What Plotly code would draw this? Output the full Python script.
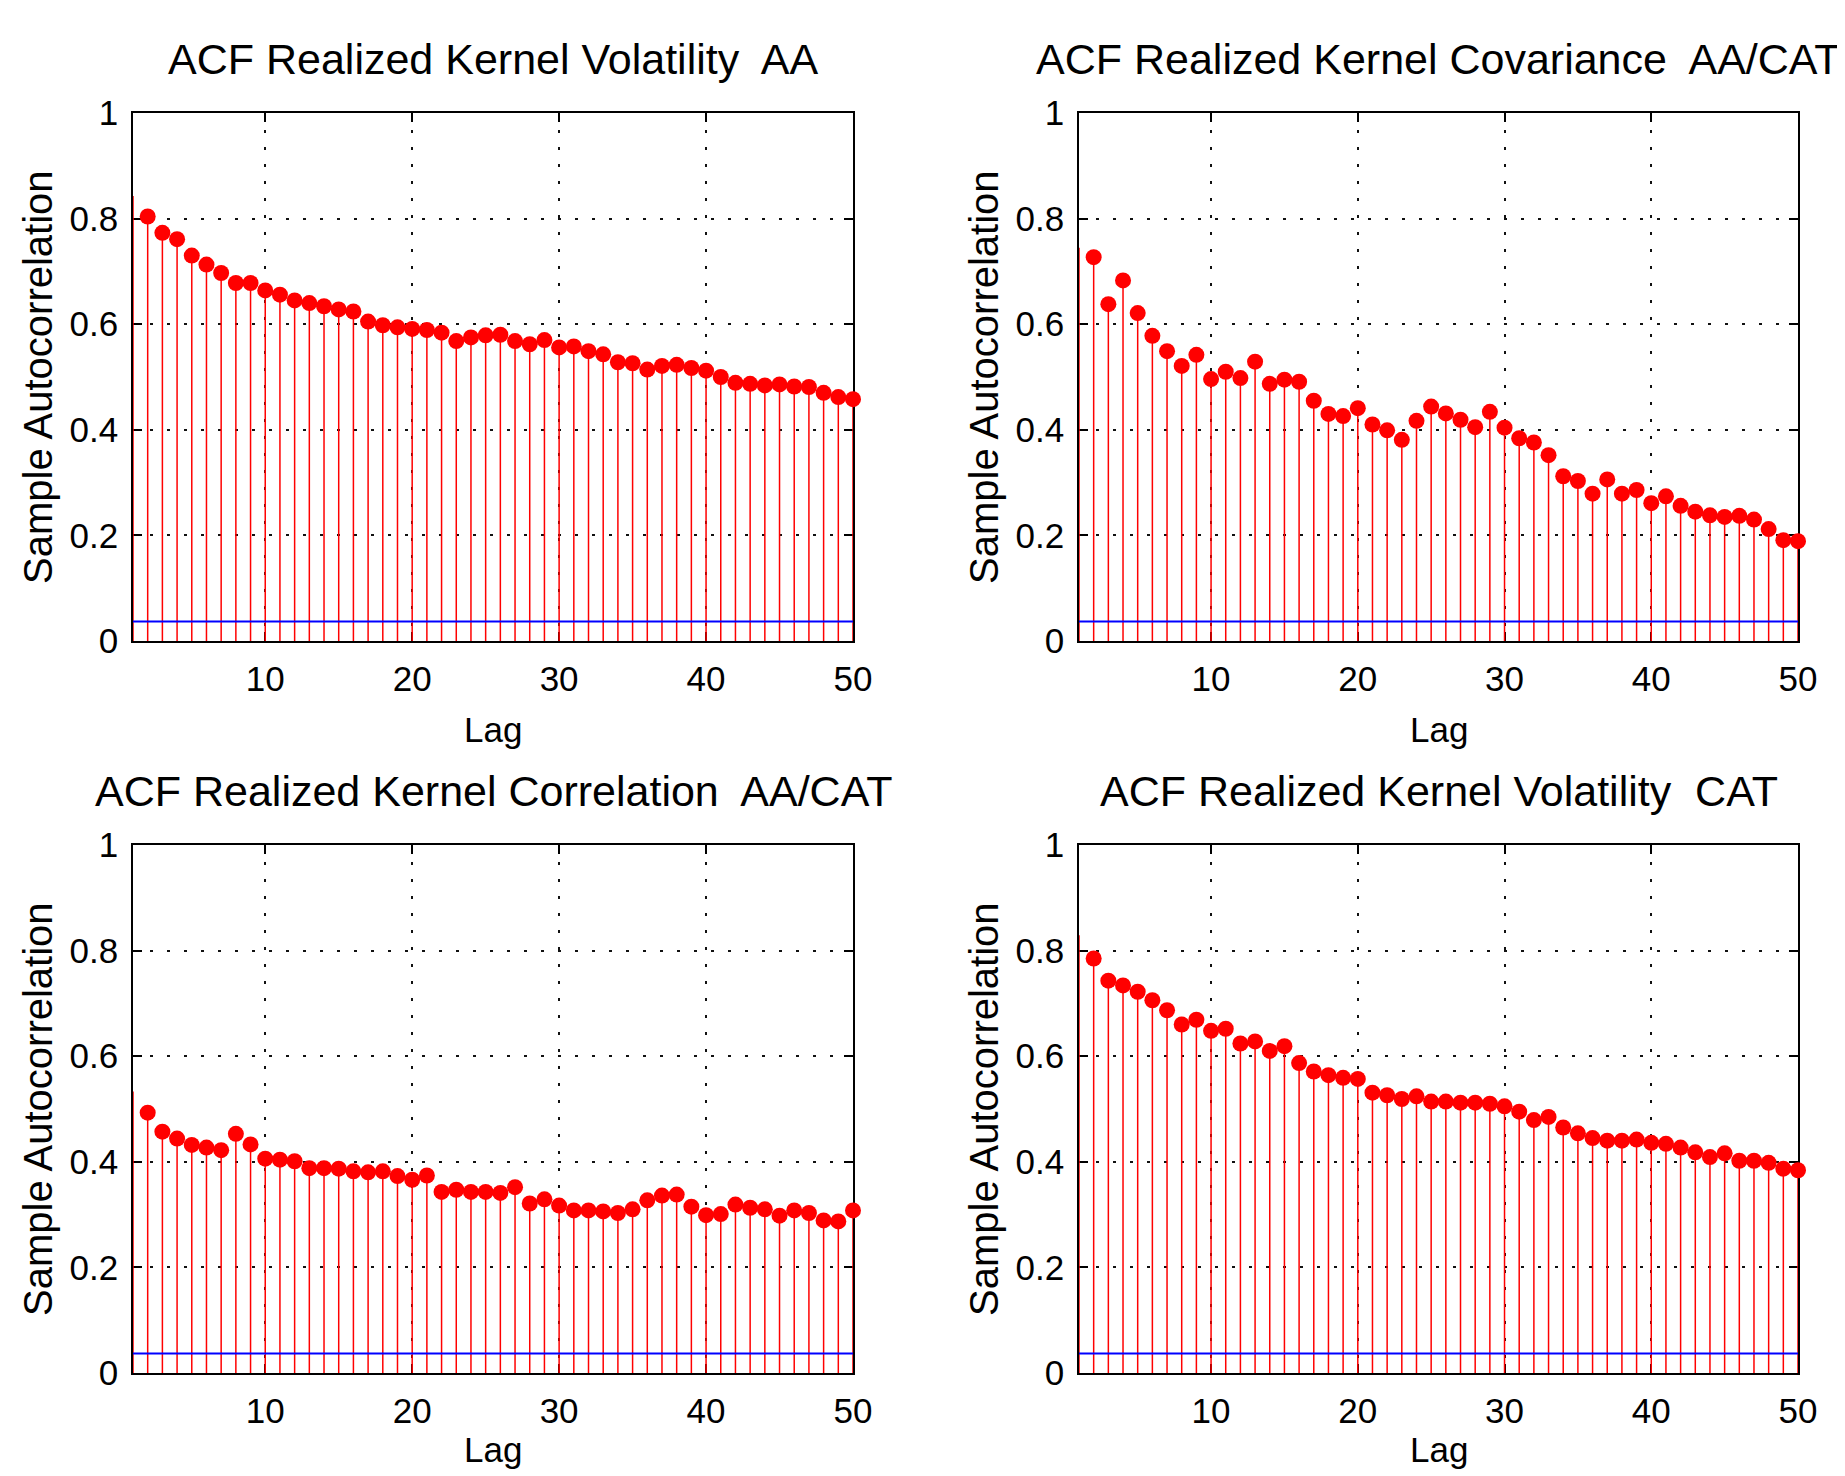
import plotly.graph_objects as go

lags = list(range(1, 51))

acf_vol_aa = [0.843, 0.804, 0.773, 0.761, 0.730, 0.713, 0.697, 0.678, 0.678, 0.664,
              0.656, 0.645, 0.640, 0.634, 0.628, 0.624, 0.605, 0.598, 0.594, 0.591,
              0.589, 0.584, 0.568, 0.575, 0.579, 0.580, 0.568, 0.562, 0.570, 0.556,
              0.558, 0.549, 0.543, 0.528, 0.526, 0.514, 0.521, 0.523, 0.517, 0.512,
              0.500, 0.489, 0.487, 0.484, 0.486, 0.482, 0.481, 0.470, 0.462, 0.458]

acf_cov = [0.745, 0.727, 0.638, 0.683, 0.621, 0.578, 0.549, 0.521, 0.542, 0.496,
           0.510, 0.498, 0.529, 0.487, 0.495, 0.491, 0.455, 0.430, 0.426, 0.441,
           0.410, 0.399, 0.381, 0.417, 0.444, 0.431, 0.419, 0.405, 0.434, 0.404,
           0.384, 0.376, 0.352, 0.312, 0.303, 0.279, 0.306, 0.279, 0.286, 0.261,
           0.274, 0.256, 0.245, 0.238, 0.235, 0.237, 0.230, 0.212, 0.191, 0.189]

acf_corr = [0.533, 0.493, 0.457, 0.444, 0.432, 0.427, 0.422, 0.453, 0.433, 0.406,
            0.404, 0.401, 0.388, 0.388, 0.387, 0.382, 0.380, 0.382, 0.373, 0.366,
            0.374, 0.343, 0.347, 0.343, 0.343, 0.341, 0.352, 0.321, 0.329, 0.317,
            0.308, 0.308, 0.306, 0.303, 0.310, 0.327, 0.336, 0.338, 0.315, 0.299,
            0.301, 0.319, 0.313, 0.310, 0.298, 0.308, 0.303, 0.289, 0.287, 0.308]

acf_vol_cat = [0.829, 0.785, 0.743, 0.734, 0.722, 0.706, 0.687, 0.660, 0.669, 0.648,
               0.652, 0.624, 0.628, 0.610, 0.619, 0.587, 0.571, 0.564, 0.559, 0.557,
               0.531, 0.526, 0.519, 0.524, 0.514, 0.514, 0.512, 0.512, 0.510, 0.505,
               0.495, 0.479, 0.485, 0.465, 0.454, 0.445, 0.440, 0.440, 0.442, 0.436,
               0.434, 0.427, 0.418, 0.409, 0.416, 0.402, 0.402, 0.398, 0.387, 0.384]

conf_bound = 0.037

titles = ["ACF Realized Kernel Volatility  AA",
          "ACF Realized Kernel Covariance  AA/CAT",
          "ACF Realized Kernel Correlation  AA/CAT",
          "ACF Realized Kernel Volatility  CAT"]
series = [acf_vol_aa, acf_cov, acf_corr, acf_vol_cat]
x_ticks = [10, 20, 30, 40, 50]
y_ticks = [0, 0.2, 0.4, 0.6, 0.8, 1]
x_label = "Lag"
y_label = "Sample Autocorrelation"

W, H = 1845, 1476
OFF = 8  # page body margin shifts the figure by this many pixels
FONT = "Liberation Sans, Arial, Helvetica, sans-serif"

# panel pixel boxes on the final page: (left, right, top, bottom)
boxes = [(133, 853, 113, 641), (1079, 1798, 113, 641),
         (133, 853, 845, 1373), (1079, 1798, 845, 1373)]
lag_label_gap = [89, 89, 76, 76]


def px_x(p):
    return (p - OFF) / W


def px_y(p):
    return 1 - (p - OFF) / H


fig = go.Figure()
annotations = []
for i, (vals, title, box) in enumerate(zip(series, titles, boxes)):
    n = i + 1
    xa = "x" if n == 1 else f"x{n}"
    ya = "y" if n == 1 else f"y{n}"
    sx, sy = [], []
    for l, v in zip(lags, vals):
        sx += [l, l, None]
        sy += [0, v, None]
    fig.add_trace(go.Scatter(x=sx, y=sy, mode="lines", line=dict(color="#ff0000", width=1.5),
                             xaxis=xa, yaxis=ya, showlegend=False, hoverinfo="skip"))
    fig.add_trace(go.Scatter(x=[lags[0], lags[-1]], y=[conf_bound, conf_bound], mode="lines",
                             line=dict(color="#0000ff", width=2),
                             xaxis=xa, yaxis=ya, showlegend=False))
    fig.add_trace(go.Scatter(x=lags[1:], y=vals[1:], mode="markers",
                             marker=dict(color="#ff0000", size=16, line=dict(width=0)),
                             cliponaxis=False, xaxis=xa, yaxis=ya, showlegend=False))
    l, r, t, b = box
    xd = [px_x(l), px_x(r)]
    yd = [px_y(b), px_y(t)]
    axis_common = dict(showline=True, linecolor="black", linewidth=1.5, mirror="allticks",
                       ticks="inside", ticklen=9, tickwidth=1.5, tickcolor="black",
                       showgrid=True, gridcolor="#111111", griddash="3px,14px", gridwidth=1.5,
                       zeroline=False, layer="below traces", automargin=False,
                       tickfont=dict(family=FONT, size=35, color="black"))
    fig.update_layout({
        ("xaxis" if n == 1 else f"xaxis{n}"): dict(domain=xd, range=[1, 50], tickvals=x_ticks,
                                                    anchor=ya, ticklabelstandoff=6, **axis_common),
        ("yaxis" if n == 1 else f"yaxis{n}"): dict(domain=yd, range=[0, 1], tickvals=y_ticks,
                                                    anchor=xa, ticklabelstandoff=6, **axis_common),
    })
    cx = px_x((l + r) / 2)
    annotations.append(dict(text=title, x=cx, y=px_y(t - 54), xref="paper", yref="paper",
                            xanchor="center", yanchor="middle", showarrow=False,
                            font=dict(family=FONT, size=43, color="black")))
    annotations.append(dict(text=x_label, x=cx, y=px_y(b + lag_label_gap[i]), xref="paper",
                            yref="paper", xanchor="center", yanchor="middle", showarrow=False,
                            font=dict(family=FONT, size=35, color="black")))
    annotations.append(dict(text=y_label, x=px_x(l - 95), y=px_y((t + b) / 2),
                            xref="paper", yref="paper", xanchor="center", yanchor="middle",
                            textangle=-90, showarrow=False,
                            font=dict(family=FONT, size=40, color="black")))

fig.update_layout(width=W, height=H, margin=dict(l=0, r=0, t=0, b=0, pad=0, autoexpand=False),
                  paper_bgcolor="white", plot_bgcolor="white",
                  annotations=annotations, font=dict(family=FONT))
fig.write_html("out.html")
